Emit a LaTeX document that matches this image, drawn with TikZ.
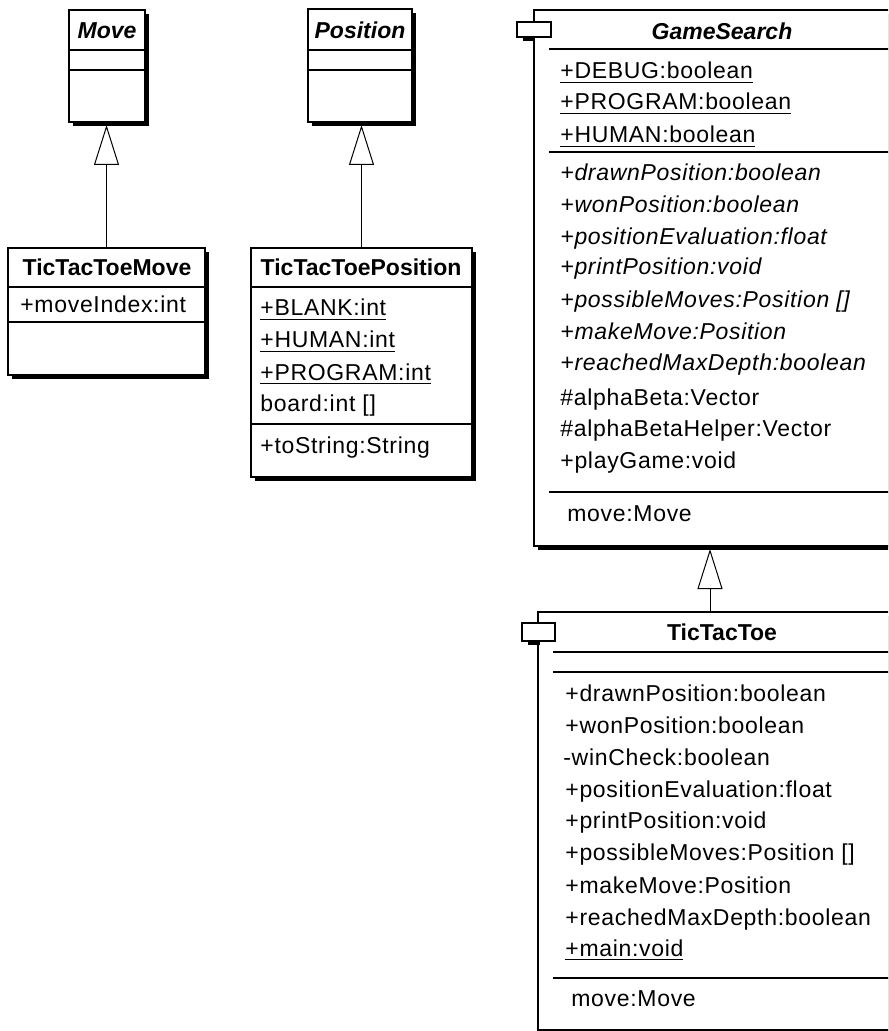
\documentclass[tikz,border=0pt]{standalone}
\usepackage{fontspec}
\newfontfamily\umlfont{Liberation Sans}[LetterSpace=3]
\newfontfamily\umlhead{Liberation Sans}
\usetikzlibrary{arrows.meta, positioning, fit, shadows}

\tikzset{
  cls/.style={draw, line width=0.6pt, fill=white, inner sep=0pt, outer sep=0pt,
    drop shadow={shadow xshift=2pt, shadow yshift=-2pt, opacity=1, fill=black}},
  sep/.style={line width=0.7pt},
  icon/.style={draw, line width=0.6pt, fill=white, inner sep=0pt, outer sep=0pt},
  attr/.style={anchor=base west, inner sep=0pt, font=\umlfont\fontsize{11.5}{13}\selectfont},
  clsname/.style={anchor=base, inner sep=0pt, font=\umlhead\fontsize{11.5}{13}\selectfont\bfseries},
  absname/.style={clsname, font=\umlhead\fontsize{11.5}{13}\selectfont\bfseries\itshape},
  inherit/.style={-{Triangle[open, length=20pt, width=12.5pt]}, line width=0.5pt},
}

\begin{document}
\begin{tikzpicture}[x=0.5pt, y=-0.5pt]

\useasboundingbox (0,0) rectangle (888,1031);
\fill[white] (0,0) rectangle (888,1031);
\clip (0,0) rectangle (888,1031);

% Move
\node[cls, fit={(69,10)(145,122)}] (move) {};
\draw[sep] (69,50) -- (145,50);
\draw[sep] (69,70) -- (145,70);
\node[absname] (movename) at (107,39) {Move};

\node[cls, fit={(8,248)(205,375)}] (tttmove) {};
\draw[sep] (8,287) -- (205,287);
\draw[sep] (8,322) -- (205,322);
\node[clsname] (tttmovename) at (107,276) {TicTacToeMove};
\node[attr] (moveindex) at (20,313) {+moveIndex:int};

\draw[inherit] (tttmove.north) -- ([yshift=-1.5pt]tttmove.north |- move.south);

% Position
\node[cls, fit={(308,9)(412,122)}] (position) {};
\draw[sep] (308,50) -- (412,50);
\draw[sep] (308,70) -- (412,70);
\node[absname] (positionname) at (360,39) {Position};

\node[cls, fit={(251,248)(472,477)}] (tttpos) {};
\draw[sep] (251,287) -- (472,287);
\draw[sep] (251,424) -- (472,424);
\node[clsname] (tttposname) at (361,276) {TicTacToePosition};
\node[attr] (blank) at (260,316) {\underline{+BLANK:int}};
\node[attr] (human) at (260,348) {\underline{+HUMAN:int}};
\node[attr] (program) at (260,380) {\underline{+PROGRAM:int}};
\node[attr] (board) at (260,411) {board:int []};
\node[attr] (tostring) at (260,453) {+toString:String};

\draw[inherit] (tttpos.north) -- ([yshift=-1.5pt]tttpos.north |- position.south);

% GameSearch
\node[cls, fit={(534,10)(960,546)}] (gamesearch) {};
\node[icon, fit={(517,22)(551,37)}] (gsicon) {};
\fill (523,37) rectangle (535,41);
\draw[sep] (549,49) -- (960,49);
\draw[sep] (549,152) -- (960,152);
\draw[sep] (549,492) -- (960,492);
\node[absname] (gsname) at (722,40) {GameSearch};
\node[attr] (gsdebug) at (560,79) {\underline{+DEBUG:boolean}};
\node[attr] (gsprogram) at (560,110) {\underline{+PROGRAM:boolean}};
\node[attr] (gshuman) at (560,143) {\underline{+HUMAN:boolean}};
\node[attr] (gsdrawn) at (560,181) {\itshape +drawnPosition:boolean};
\node[attr] (gswon) at (560,213) {\itshape +wonPosition:boolean};
\node[attr] (gseval) at (560,245) {\itshape +positionEvaluation:float};
\node[attr] (gsprint) at (560,275) {\itshape +printPosition:void};
\node[attr] (gsmoves) at (560,308) {\itshape +possibleMoves:Position []};
\node[attr] (gsmake) at (560,340) {\itshape +makeMove:Position};
\node[attr] (gsdepth) at (560,371) {\itshape +reachedMaxDepth:boolean};
\node[attr] (gsalpha) at (560,405) {\#alphaBeta:Vector};
\node[attr] (gshelper) at (560,436) {\#alphaBetaHelper:Vector};
\node[attr] (gsplay) at (560,468) {+playGame:void};
\node[attr] (gsmove) at (567,521) {move:Move};

% TicTacToe
\node[cls, fit={(538,612)(960,1030)}] (tictactoe) {};
\node[icon, fit={(522,623)(555,641)}] (ttticon) {};
\fill (528,641) rectangle (540,645);
\draw[sep] (553,652) -- (960,652);
\draw[sep] (553,672) -- (960,672);
\draw[sep] (553,978) -- (960,978);
\node[clsname] (tttname) at (722,640) {TicTacToe};
\node[attr] (tttdrawn) at (565,701) {+drawnPosition:boolean};
\node[attr] (tttwon) at (565,733) {+wonPosition:boolean};
\node[attr] (tttcheck) at (563,765) {-winCheck:boolean};
\node[attr] (ttteval) at (565,797) {+positionEvaluation:float};
\node[attr] (tttprint) at (565,828) {+printPosition:void};
\node[attr] (tttmoves) at (565,860) {+possibleMoves:Position []};
\node[attr] (tttmake) at (565,893) {+makeMove:Position};
\node[attr] (tttdepth) at (565,925) {+reachedMaxDepth:boolean};
\node[attr] (tttmain) at (565,956) {\underline{+main:void}};
\node[attr] (tttmove2) at (571,1006) {move:Move};

\coordinate (gsfoot) at (710,549);
\draw[inherit] (gsfoot |- tictactoe.north) -- (gsfoot);

\end{tikzpicture}
\end{document}
